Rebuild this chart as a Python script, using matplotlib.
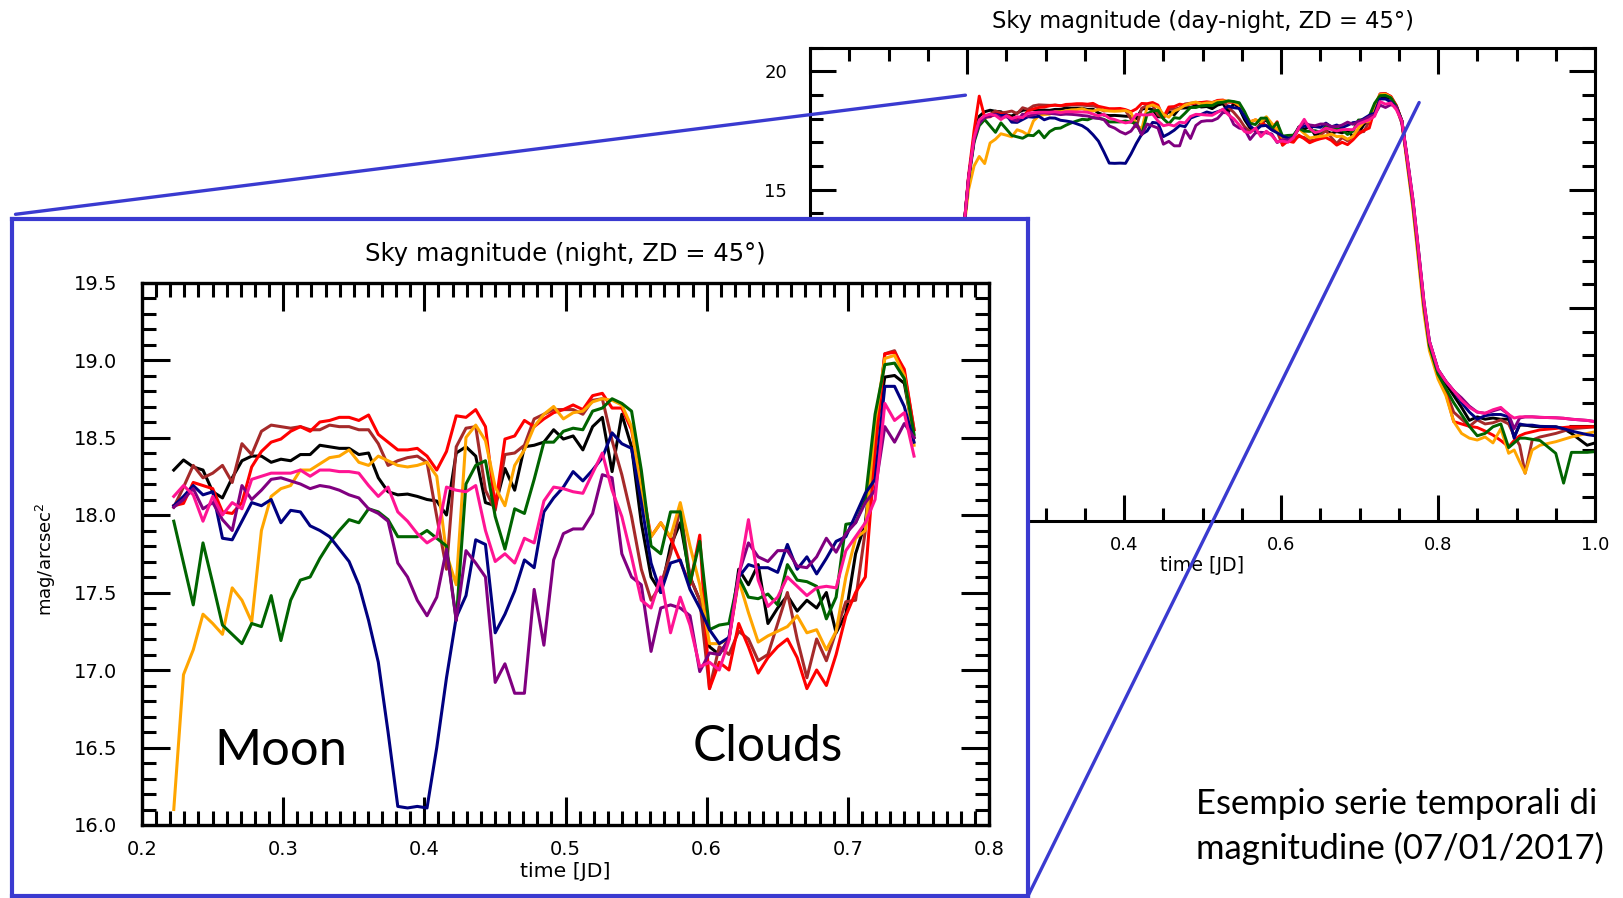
import numpy as np
import matplotlib.pyplot as plt
from matplotlib.patches import ConnectionPatch
from matplotlib.ticker import MultipleLocator, FormatStrFormatter

# ---------------------------------------------------------------
# data: sky magnitude time series, 8 detectors (07/01/2017)
# ---------------------------------------------------------------
NIGHT_T0 = 0.2225          # first night sample [JD]
NIGHT_DT = 0.0069          # ~10 min cadence
night_t = NIGHT_T0 + NIGHT_DT * np.arange(77)

black_night = [18.29, 18.355, 18.31, 18.29, 18.15, 18.11, 18.24, 18.35, 18.38, 18.38, 18.34, 18.36, 18.35, 18.39, 18.39, 18.45, 18.44, 18.43, 18.43, 18.39, 18.40, 18.24, 18.15, 18.13, 18.135,
               18.12, 18.10, 18.09, 18.0, 18.40, 18.44, 18.38, 18.08, 18.06, 18.30, 18.16, 18.44, 18.45, 18.47, 18.55, 18.49, 18.51, 18.42, 18.57, 18.63, 18.28, 18.65, 18.44, 17.95, 17.6,
               17.5, 17.8, 17.95, 17.6, 17.45, 17.15, 17.1, 17.2, 17.65, 17.55, 17.68, 17.3, 17.4, 17.48, 17.38, 17.45, 17.4, 17.5, 17.24, 17.36, 17.75, 17.95, 18.5, 18.89, 18.90, 18.85, 18.5]
brown_night = [18.05, 18.18, 18.32, 18.24, 18.27, 18.32, 18.21, 18.46, 18.39, 18.54, 18.58, 18.57, 18.56, 18.57, 18.55, 18.55, 18.58, 18.57, 18.57, 18.55, 18.55, 18.46, 18.32, 18.35, 18.37,
               18.38, 18.34, 17.99, 17.65, 18.44, 18.56, 18.57, 18.16, 18.03, 18.39, 18.40, 18.45, 18.62, 18.65, 18.68, 18.68, 18.68, 18.65, 18.74, 18.75, 18.48, 18.26, 17.99, 17.65, 17.45,
               17.55, 17.75, 18.05, 17.6, 17.45, 16.88, 17.15, 17.1, 17.25, 17.2, 17.06, 17.1, 17.3, 17.5, 17.2, 16.95, 17.2, 17.06, 17.25, 17.44, 17.45, 17.9, 18.5, 19.04, 19.06, 18.92, 18.55]
red_night = [18.06, 18.075, 18.21, 18.19, 18.17, 18.02, 18.01, 18.08, 18.31, 18.41, 18.47, 18.49, 18.54, 18.57, 18.54, 18.60, 18.61, 18.63, 18.63, 18.61, 18.645, 18.52, 18.47, 18.42, 18.42,
             18.43, 18.38, 18.29, 18.41, 18.64, 18.63, 18.68, 18.57, 18.05, 18.49, 18.51, 18.61, 18.57, 18.62, 18.66, 18.68, 18.71, 18.68, 18.77, 18.785, 18.69, 18.69, 18.55, 18.2, 17.86,
             17.95, 17.85, 17.7, 17.55, 17.87, 16.88, 17.05, 17.0, 17.3, 17.15, 16.98, 17.08, 17.15, 17.2, 17.08, 16.88, 17.0, 16.9, 17.1, 17.35, 17.5, 17.6, 18.4, 19.04, 19.05, 18.94, 18.55]
orange_night = [16.10, 16.97, 17.13, 17.36, 17.30, 17.23, 17.53, 17.45, 17.31, 17.90, 18.12, 18.17, 18.19, 18.29, 18.29, 18.33, 18.37, 18.38, 18.42, 18.34, 18.32, 18.38, 18.35, 18.32, 18.31,
                18.32, 18.34, 18.25, 17.75, 17.55, 18.50, 18.58, 18.48, 18.18, 18.06, 18.32, 18.42, 18.57, 18.65, 18.70, 18.62, 18.66, 18.67, 18.73, 18.75, 18.74, 18.71, 18.57, 18.15, 17.86,
                17.95, 17.86, 18.08, 17.8, 17.55, 17.17, 17.17, 17.2, 17.58, 17.37, 17.18, 17.22, 17.25, 17.28, 17.35, 17.24, 17.26, 17.13, 17.25, 17.6, 17.85, 17.9, 18.6, 19.01, 19.03, 18.9, 18.45]
green_night = [17.96, 17.69, 17.42, 17.82, 17.56, 17.29, 17.23, 17.17, 17.30, 17.28, 17.48, 17.19, 17.45, 17.58, 17.60, 17.72, 17.82, 17.90, 17.97, 17.95, 18.04, 18.02, 17.97, 17.86, 17.86,
               17.86, 17.90, 17.85, 17.80, 17.32, 18.2, 18.32, 18.35, 17.99, 17.78, 18.04, 18.01, 18.23, 18.47, 18.47, 18.54, 18.56, 18.55, 18.67, 18.69, 18.75, 18.72, 18.67, 18.29, 17.8,
               17.75, 18.02, 18.02, 17.56, 17.83, 17.26, 17.29, 17.30, 17.60, 17.47, 17.46, 17.49, 17.42, 17.68, 17.58, 17.57, 17.54, 17.33, 17.47, 17.94, 17.95, 18.1, 18.65, 18.97, 18.98, 18.88, 18.52]
navy_night = [18.06, 18.12, 18.19, 18.13, 18.15, 17.85, 17.84, 17.96, 18.08, 18.06, 18.10, 17.95, 18.03, 18.02, 17.93, 17.90, 17.86, 17.78, 17.7, 17.55, 17.32, 17.05, 16.6, 16.12, 16.11,
              16.12, 16.11, 16.5, 16.95, 17.34, 17.48, 17.84, 17.81, 17.24, 17.36, 17.51, 17.71, 17.66, 18.02, 18.11, 18.18, 18.28, 18.22, 18.29, 18.37, 18.53, 18.46, 18.43, 18.08, 17.69,
              17.5, 17.69, 17.71, 17.52, 17.4, 17.26, 17.17, 17.21, 17.60, 17.68, 17.66, 17.66, 17.63, 17.81, 17.65, 17.73, 17.62, 17.72, 17.83, 17.86, 18.0, 18.14, 18.23, 18.83, 18.83, 18.70, 18.47]
purple_night = [18.05, 18.10, 18.17, 18.04, 18.08, 17.97, 17.90, 18.19, 18.10, 18.16, 18.23, 18.24, 18.22, 18.20, 18.17, 18.19, 18.18, 18.16, 18.13, 18.11, 18.04, 18.01, 17.96, 17.69, 17.60,
                17.45, 17.35, 17.47, 17.78, 17.32, 17.77, 17.69, 17.60, 16.92, 17.04, 16.85, 16.85, 17.52, 17.16, 17.71, 17.88, 17.91, 17.91, 18.01, 18.26, 18.24, 17.75, 17.6, 17.55, 17.12,
                17.4, 17.42, 17.4, 17.35, 16.99, 17.11, 17.1, 17.2, 17.62, 17.82, 17.73, 17.70, 17.77, 17.77, 17.67, 17.66, 17.73, 17.85, 17.76, 17.88, 17.95, 18.08, 18.16, 18.57, 18.47, 18.59, 18.5]
pink_night = [18.12, 18.19, 18.13, 17.96, 18.12, 18.0, 18.08, 18.04, 18.23, 18.25, 18.27, 18.27, 18.27, 18.29, 18.25, 18.29, 18.29, 18.28, 18.28, 18.27, 18.19, 18.12, 18.18, 18.02, 17.96,
              17.88, 17.82, 17.86, 18.18, 18.16, 18.15, 18.19, 17.90, 17.70, 17.75, 17.69, 17.85, 17.82, 18.09, 18.18, 18.17, 18.15, 18.14, 18.27, 18.40, 18.16, 17.99, 17.73, 17.45, 17.4,
              17.6, 17.24, 17.47, 17.29, 17.02, 17.05, 17.0, 17.19, 17.60, 17.97, 17.58, 17.41, 17.47, 17.60, 17.54, 17.48, 17.53, 17.54, 17.53, 17.77, 17.86, 17.95, 18.1, 18.72, 18.61, 18.66, 18.38]

# twilight parts, only on the day-night plot
dusk_t = [0.0, 0.12, 0.17, 0.181, 0.188, 0.195, 0.202, 0.209, 0.2156]
black_dusk = [4.0, 3.6, 5.0, 8.0, 10.5, 13.0, 15.5, 17.2, 18.1]
brown_dusk = [4.0, 3.6, 5.0, 8.0, 10.5, 13.0, 15.5, 17.1, 17.9]
red_dusk = [4.0, 3.6, 5.0, 8.0, 10.5, 13.0, 15.6, 17.5, 18.95]
orange_dusk = [4.0, 3.6, 5.0, 8.0, 10.5, 13.0, 15.0, 16.0, 16.4]
green_dusk = [4.0, 3.6, 5.0, 8.0, 10.5, 13.0, 15.4, 17.0, 17.7]
navy_dusk = [4.0, 3.6, 5.0, 8.0, 10.5, 13.0, 15.5, 17.1, 17.9]
purple_dusk = [4.0, 3.6, 5.0, 8.0, 10.5, 13.0, 15.5, 17.1, 17.8]
pink_dusk = [4.0, 3.6, 5.0, 8.0, 10.5, 13.0, 15.5, 17.2, 17.95]

dawn_t = [0.754, 0.761, 0.768, 0.775, 0.782, 0.789, 0.80, 0.81, 0.82, 0.83, 0.84, 0.85, 0.86,
          0.87, 0.88, 0.89, 0.897, 0.904, 0.911, 0.92, 0.93, 0.95, 0.96, 0.97, 0.99, 1.0]
black_dawn = [17.9, 16.2, 14.5, 12.4, 10.2, 8.5, 7.3, 6.8, 6.3, 5.8, 5.25, 5.4, 5.3, 5.35, 5.3, 5.3, 4.56, 5.05, 5.05, 5.0, 4.98, 4.98, 4.9, 4.7, 4.2, 4.3]
brown_dawn = [17.9, 16.2, 14.4, 12.3, 10.1, 8.5, 7.2, 6.5, 5.6, 5.3, 5.0, 5.27, 5.1, 5.15, 5.27, 5.1, 4.6, 4.2, 3.02, 4.42, 4.55, 4.7, 4.8, 4.9, 4.95, 4.98]
red_dawn = [17.9, 16.1, 14.3, 12.2, 10.0, 8.4, 7.2, 6.4, 5.2, 5.1, 5.0, 4.95, 4.8, 4.63, 4.4, 4.14, 4.4, 4.6, 4.7, 4.77, 4.85, 4.91, 4.95, 4.98, 4.98, 4.98]
orange_dawn = [17.8, 16.0, 14.2, 12.0, 9.8, 8.2, 7.0, 6.3, 5.2, 4.7, 4.5, 4.42, 4.55, 4.3, 4.9, 3.86, 4.0, 3.5, 3.02, 4.0, 4.2, 4.35, 4.45, 4.55, 4.7, 4.77]
green_dawn = [17.9, 16.2, 14.4, 12.3, 10.1, 8.4, 7.2, 6.6, 6.0, 5.5, 5.0, 4.6, 4.7, 4.98, 5.1, 4.1, 4.3, 4.5, 4.5, 4.45, 4.4, 3.86, 2.6, 3.9, 3.9, 3.93]
navy_dawn = [17.9, 16.3, 14.6, 12.5, 10.3, 8.6, 7.4, 6.9, 6.5, 6.0, 5.6, 5.3, 5.45, 5.5, 5.5, 5.4, 4.5, 5.1, 5.05, 5.05, 5.0, 4.98, 4.9, 4.8, 4.65, 4.6]
purple_dawn = [17.8, 16.2, 14.5, 12.4, 10.2, 8.6, 7.4, 6.9, 6.5, 6.2, 5.85, 5.6, 5.55, 5.65, 5.75, 5.5, 4.9, 5.35, 5.4, 5.4, 5.38, 5.36, 5.34, 5.3, 5.25, 5.2]
pink_dawn = [17.9, 16.3, 14.6, 12.5, 10.3, 8.6, 7.4, 6.9, 6.5, 6.1, 5.8, 5.6, 5.55, 5.7, 5.8, 5.5, 5.35, 5.4, 5.4, 5.4, 5.38, 5.36, 5.34, 5.3, 5.25, 5.2]

series = [
    ("black",   black_dusk,  black_night,  black_dawn),
    ("#a52a2a", brown_dusk,  brown_night,  brown_dawn),
    ("red",     red_dusk,    red_night,    red_dawn),
    ("orange",  orange_dusk, orange_night, orange_dawn),
    ("#006400", green_dusk,  green_night,  green_dawn),
    ("navy",    navy_dusk,   navy_night,   navy_dawn),
    ("purple",  purple_dusk, purple_night, purple_dawn),
    ("#ff1493", pink_dusk,   pink_night,   pink_dawn),
]

BLUE = "#3a3ad0"
W, H = 1623, 898

def fxp(px):
    return px / W

def fyp(py):
    return 1 - py / H

fig = plt.figure(figsize=(W / 100, H / 100), dpi=100)
fig.patch.set_facecolor("white")

# ---- day-night plot (background) ----
ax_main = fig.add_axes([fxp(810), fyp(521), (1595 - 810) / W, (521 - 47.6) / H], zorder=1)
# ---- white box holding the zoom ----
ax_box = fig.add_axes([fxp(12.4), fyp(896.4), (1027.8 - 12.4) / W, (896.4 - 219.4) / H], zorder=2)
ax_box.set_xticks([])
ax_box.set_yticks([])
for sp in ax_box.spines.values():
    sp.set_color(BLUE)
    sp.set_linewidth(3.0)
# ---- night plot (zoom) ----
ax_in = fig.add_axes([fxp(142), fyp(825), (989 - 142) / W, (825 - 282.5) / H], zorder=3)

for color, dusk, night, dawn in series:
    t_all = np.concatenate([dusk_t, night_t, dawn_t])
    v_all = np.concatenate([dusk, night, dawn])
    ax_main.plot(t_all, v_all, color=color, lw=2.1)
    ax_in.plot(night_t, night, color=color, lw=2.2)

ax_main.set_xlim(0, 1.0)
ax_main.set_ylim(1, 21)
ax_main.xaxis.set_major_locator(MultipleLocator(0.2))
ax_main.xaxis.set_minor_locator(MultipleLocator(0.05))
ax_main.yaxis.set_major_locator(MultipleLocator(5))
ax_main.yaxis.set_minor_locator(MultipleLocator(1))
ax_main.xaxis.set_major_formatter(FormatStrFormatter("%.1f"))
ax_main.tick_params(which="both", direction="in", top=True, right=True, width=2.2, labelsize=13)
ax_main.tick_params(which="major", length=19)
ax_main.tick_params(which="minor", length=9.5)
ax_main.tick_params(axis="y", pad=16.5)
ax_main.tick_params(axis="x", pad=11)
for sp in ax_main.spines.values():
    sp.set_linewidth(2.2)
ax_main.set_title("Sky magnitude (day-night, ZD = 45°)", fontsize=16.3, pad=14)
ax_main.set_xlabel("time [JD]", fontsize=13.7, labelpad=1)

ax_in.set_xlim(0.2, 0.8)
ax_in.set_ylim(16.0, 19.5)
ax_in.xaxis.set_major_locator(MultipleLocator(0.1))
ax_in.xaxis.set_minor_locator(MultipleLocator(0.01))
ax_in.yaxis.set_major_locator(MultipleLocator(0.5))
ax_in.yaxis.set_minor_locator(MultipleLocator(0.1))
ax_in.xaxis.set_major_formatter(FormatStrFormatter("%.1f"))
ax_in.yaxis.set_major_formatter(FormatStrFormatter("%.1f"))
ax_in.tick_params(which="both", direction="in", top=True, right=True, width=2.2, labelsize=14)
ax_in.tick_params(which="major", length=20)
ax_in.tick_params(which="minor", length=10)
ax_in.tick_params(axis="y", pad=18)
ax_in.tick_params(axis="x", pad=11)
for sp in ax_in.spines.values():
    sp.set_linewidth(2.4)
ax_in.set_title("Sky magnitude (night, ZD = 45°)", fontsize=17.5, pad=15.5)
ax_in.set_xlabel("time [JD]", fontsize=14.7, labelpad=2)
ax_in.set_ylabel("mag/arcsec$^2$", fontsize=13)
ax_in.yaxis.set_label_coords(-0.099, 0.49)

ax_in.text(0.0860, 0.1106, "Moon", transform=ax_in.transAxes, fontsize=36.5,
           family="Lato", va="baseline", ha="left")
ax_in.text(0.650, 0.1188, "Clouds", transform=ax_in.transAxes, fontsize=35.8,
           family="Lato", va="baseline", ha="left")

# zoom connector lines
for xy_fig, xy_data in [((fxp(15.5), fyp(214.3)), (0.198, 18.99)),
                        ((fxp(1027.8), fyp(896.4)), (0.776, 18.68))]:
    con = ConnectionPatch(xyA=xy_fig, coordsA="figure fraction",
                          xyB=xy_data, coordsB=ax_main.transData,
                          color=BLUE, lw=2.4, zorder=4)
    con.set_clip_on(False)
    fig.add_artist(con)

fig.text(fxp(1195.5), fyp(814.4), "Esempio serie temporali di", family="Lato",
         fontsize=24.9, va="baseline", ha="left", zorder=5)
fig.text(fxp(1195.5), fyp(859), "magnitudine (07/01/2017)", family="Lato",
         fontsize=24.9, va="baseline", ha="left", zorder=5)

fig.savefig("out.png", dpi=100)
